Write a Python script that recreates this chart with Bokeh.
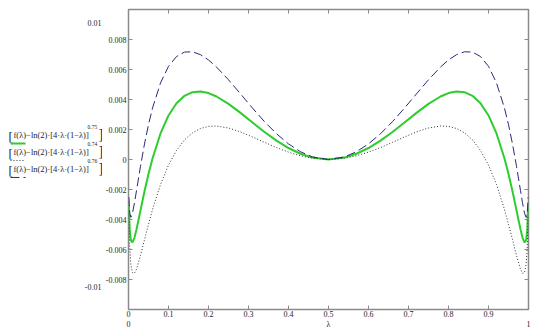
from bokeh.plotting import figure
from bokeh.models import LinearAxis, FixedTicker, Range1d
from bokeh.layouts import row
from bokeh.core.properties import value
from bokeh.embed import file_html
from bokeh.resources import INLINE

# ---------------- data ----------------
lam = [0.001, 0.003, 0.006, 0.01, 0.015, 0.02, 0.03, 0.04, 0.05, 0.06, 0.08, 0.10,
       0.12, 0.14, 0.16, 0.18, 0.20, 0.22, 0.25, 0.28, 0.31, 0.34, 0.37, 0.40, 0.43,
       0.46, 0.50, 0.54, 0.57, 0.60, 0.63, 0.66, 0.69, 0.72, 0.75, 0.78, 0.80, 0.82,
       0.84, 0.86, 0.88, 0.90, 0.92, 0.94, 0.95, 0.96, 0.97, 0.98, 0.985, 0.99,
       0.994, 0.997, 0.999]

d075 = [-0.003109, -0.004652, -0.005397, -0.005530, -0.005201, -0.004659, -0.003389,
        -0.002122, -0.000961, 0.000070, 0.001738, 0.002938, 0.003748, 0.004244,
        0.004489, 0.004535, 0.004427, 0.004201, 0.003709, 0.003108, 0.002466,
        0.001834, 0.001257, 0.000765, 0.000382, 0.000127, 0.0,
        0.000127, 0.000382, 0.000765, 0.001257, 0.001834, 0.002466, 0.003108,
        0.003709, 0.004201, 0.004427, 0.004535, 0.004489, 0.004244, 0.003748,
        0.002938, 0.001738, 0.000070, -0.000961, -0.002122, -0.003389, -0.004659,
        -0.005201, -0.005530, -0.005397, -0.004652, -0.003109]

d074 = [-0.003735, -0.005786, -0.006999, -0.007549, -0.007585, -0.007307, -0.006392,
        -0.005339, -0.004321, -0.003334, -0.001670, -0.000371, 0.000605, 0.001306,
        0.001780, 0.002068, 0.002209, 0.002231, 0.002100, 0.001838, 0.001503,
        0.001144, 0.000796, 0.000491, 0.000247, 0.000082, 0.0,
        0.000082, 0.000247, 0.000491, 0.000796, 0.001144, 0.001503, 0.001838,
        0.002100, 0.002231, 0.002209, 0.002068, 0.001780, 0.001306, 0.000605,
        -0.000371, -0.001670, -0.003334, -0.004321, -0.005339, -0.006392, -0.007307,
        -0.007585, -0.007549, -0.006999, -0.005786, -0.003735]

d076 = [-0.002517, -0.003566, -0.003854, -0.003575, -0.002884, -0.002077, -0.000450,
        0.001034, 0.002325, 0.003424, 0.005105, 0.006212, 0.006865, 0.007161,
        0.007181, 0.006988, 0.006636, 0.006165, 0.005314, 0.004376, 0.003427,
        0.002525, 0.001717, 0.001040, 0.000518, 0.000171, 0.0,
        0.000171, 0.000518, 0.001040, 0.001717, 0.002525, 0.003427, 0.004376,
        0.005314, 0.006165, 0.006636, 0.006988, 0.007181, 0.007161, 0.006865,
        0.006212, 0.005105, 0.003424, 0.002325, 0.001034, -0.000450, -0.002077,
        -0.002884, -0.003575, -0.003854, -0.003566, -0.002517]

x_ticks = [0.0, 0.1, 0.2, 0.3, 0.4, 0.5, 0.6, 0.7, 0.8, 0.9]
x_tick_labels = ["0", "0.1", "0.2", "0.3", "0.4", "0.5", "0.6", "0.7", "0.8", "0.9"]
y_ticks = [-0.008, -0.006, -0.004, -0.002, 0.0, 0.002, 0.004, 0.006, 0.008]
y_tick_labels = ["-0.008", "-0.006", "-0.004", "-0.002", "0", "0.002", "0.004", "0.006", "0.008"]
x_limit_ticks = [0, 0.5, 1]
x_limit_labels = ["0", "λ", "1"]
y_limit_labels = ["0.01", "-0.01"]
legend_main = "f(λ)−ln(2)·[4·λ·(1−λ)]"
legend_exps = ["0.75", "0.74", "0.76"]

# ---------------- styles ----------------
FONT = "Liberation Serif"
FS = "8px"
TXT_C = "#1e1e1e"
FRAME_C = "#8a8a8a"
series_styles = [
    dict(color="#2ecc2e", width=2.0, dash="solid"),
    dict(color="#333333", width=1.0, dash="1 2"),
    dict(color="#2a2a78", width=1.0, dash="9 4"),
]

LEG_W = 102
H = 332

# ---------------- legend / side-label panel (pixel coordinates) ----------------
pl = figure(width=LEG_W, height=H, x_range=Range1d(0, LEG_W), y_range=Range1d(H, 0),
            output_backend="svg", toolbar_location=None,
            x_axis_location=None, y_axis_location=None, min_border=0)
pl.xgrid.visible = False
pl.ygrid.visible = False
pl.outline_line_color = None

leg_y = [139 + 18.8 * i for i in range(3)]
pl.text(x=[13] * 3, y=leg_y, text=[legend_main] * 3, text_font=value(FONT),
        text_font_size=value("8.5px"), text_color=TXT_C, text_align="left",
        text_baseline="middle")
pl.text(x=[87] * 3, y=[v - 8.5 for v in leg_y], text=legend_exps, text_font=value(FONT),
        text_font_size=value("5.5px"), text_color=TXT_C, text_align="left",
        text_baseline="middle")
pl.text(x=[8] * 3, y=[v + 1.5 for v in leg_y], text=["["] * 3, text_font=value(FONT),
        text_font_size=value("13px"), text_color=TXT_C, text_align="left",
        text_baseline="middle")
pl.text(x=[98] * 3, y=[v - 1.0 for v in leg_y], text=["]"] * 3, text_font=value(FONT),
        text_font_size=value("14px"), text_color=TXT_C, text_align="left",
        text_baseline="middle")
for yy, st in zip(leg_y, series_styles):
    pl.line([10, 25], [yy + 9.3, yy + 9.3], line_color=st["color"],
            line_width=st["width"], line_dash=st["dash"])

# limit labels of the y axis (Mathcad style)
pl.text(x=[101, 101], y=[14.7, 307], text=y_limit_labels, text_font=value(FONT),
        text_font_size=value(FS), text_color=TXT_C, text_align="right",
        text_baseline="middle")

# ---------------- main plot ----------------
p = figure(width=540 - LEG_W, height=H, x_range=(0, 1), y_range=(-0.01, 0.01),
           output_backend="svg", toolbar_location=None,
           x_axis_location=None, y_axis_location=None,
           min_border_left=125 - LEG_W, min_border_right=12,
           min_border_top=9, min_border_bottom=23)
p.xgrid.visible = False
p.ygrid.visible = False
p.outline_line_color = FRAME_C
p.outline_line_width = 1.5


def style_axis(ax, ticks, labels=None, tick_len=4):
    ax.ticker = FixedTicker(ticks=ticks)
    ax.axis_line_color = None
    ax.major_tick_in = tick_len
    ax.major_tick_out = 0
    ax.minor_tick_line_color = None
    ax.major_tick_line_color = FRAME_C if tick_len else None
    ax.major_tick_line_width = 1
    if labels is None:
        ax.major_label_overrides = {t: "" for t in ticks}
        ax.major_label_text_font_size = "1px"
        ax.major_label_standoff = 0
    else:
        ax.major_label_overrides = {t: l for t, l in zip(ticks, labels)}
        ax.major_label_text_font = FONT
        ax.major_label_text_font_size = FS
        ax.major_label_text_color = TXT_C


bottom = LinearAxis()
style_axis(bottom, x_ticks, x_tick_labels)
bottom.major_label_standoff = 1
p.add_layout(bottom, "below")

bottom2 = LinearAxis()
style_axis(bottom2, x_limit_ticks, x_limit_labels, tick_len=0)
bottom2.major_label_standoff = 0
p.add_layout(bottom2, "below")

left = LinearAxis()
style_axis(left, y_ticks, y_tick_labels)
left.major_label_standoff = 2
p.add_layout(left, "left")

top = LinearAxis()
style_axis(top, x_ticks[1:])
p.add_layout(top, "above")

right = LinearAxis()
style_axis(right, y_ticks)
p.add_layout(right, "right")

for vals, st in zip([d075, d074, d076], series_styles):
    p.line(lam, vals, line_color=st["color"], line_width=st["width"],
           line_dash=st["dash"])

layout = row(pl, p)
open("out.html", "w").write(file_html(layout, INLINE))
